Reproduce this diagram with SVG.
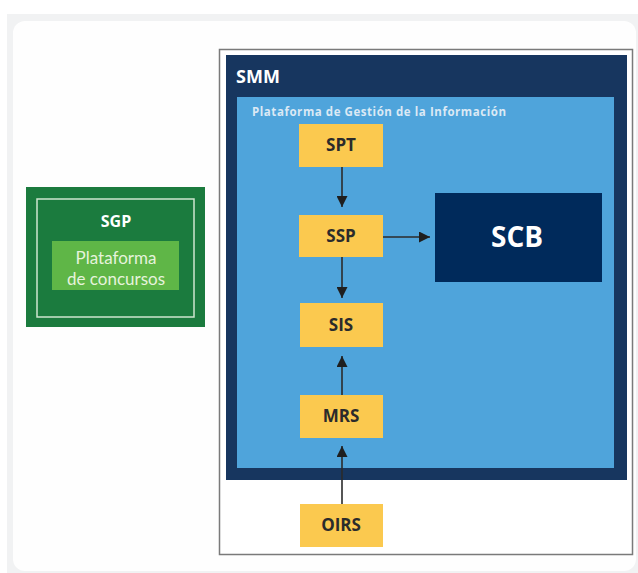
<svg xmlns="http://www.w3.org/2000/svg" width="638" height="573" viewBox="0 0 638 573">
<style>
.yb{fill:#fbc94f}
.yt{font-family:"Open Sans","Noto Sans",sans-serif;font-weight:bold;font-size:17px;fill:#2b2b2b;text-anchor:middle}
.ln{stroke:#2b2b2b;stroke-width:1.6;fill:none}
</style>
<defs>
<marker id="ah" viewBox="0 0 10 10" refX="10" refY="5" markerWidth="11" markerHeight="11" markerUnits="userSpaceOnUse" orient="auto">
<path d="M0,0 L10,5 L0,10 Z" fill="#1f1f1f"/>
</marker>
</defs>
<rect x="0" y="0" width="638" height="573" fill="#ffffff"/>
<rect x="7" y="14" width="640" height="570" fill="#f1f2f3"/>
<rect x="13" y="21" width="623" height="550" rx="12" fill="#fefefe"/>

<g id="sgp">
<rect x="26" y="187" width="179" height="140" fill="#1b7b3e"/>
<rect x="37" y="199" width="157" height="118" fill="none" stroke="#cfe6cf" stroke-width="1.5"/>
<text x="116" y="227" font-family="'Open Sans','Noto Sans',sans-serif" font-weight="bold" font-size="16" fill="#ffffff" text-anchor="middle">SGP</text>
<rect x="52" y="241" width="127" height="49" fill="#5fb647"/>
<text x="116" y="264" font-family="Lato,'Open Sans',sans-serif" font-size="17" fill="#e6f3dc" text-anchor="middle">Plataforma</text>
<text x="116" y="285" font-family="Lato,'Open Sans',sans-serif" font-size="17" fill="#e6f3dc" text-anchor="middle">de concursos</text>
</g>

<g id="smm">
<rect x="219.5" y="49.5" width="413" height="505" fill="#ffffff" stroke="#7a7a7a" stroke-width="1.5"/>
<rect x="226" y="55" width="401" height="425" fill="#17365f"/>
<text x="236" y="83" font-family="'Open Sans','Noto Sans',sans-serif" font-weight="bold" font-size="18" fill="#ffffff">SMM</text>
</g>

<g id="pgi">
<rect x="237" y="97" width="377" height="371" fill="#4fa4db"/>
<text x="252" y="116" font-family="'Open Sans','Noto Sans',sans-serif" font-weight="bold" font-size="11.5" fill="#dbe9f5" textLength="254">Plataforma de Gestión de la Información</text>
</g>

<g id="spt"><rect class="yb" x="299" y="124" width="84" height="43"/><text class="yt" x="341" y="151">SPT</text></g>
<g id="ssp"><rect class="yb" x="299" y="215" width="84" height="42"/><text class="yt" x="341" y="242">SSP</text></g>
<g id="sis"><rect class="yb" x="300" y="303" width="83" height="44"/><text class="yt" x="341" y="331">SIS</text></g>
<g id="mrs"><rect class="yb" x="300" y="395" width="83" height="43"/><text class="yt" x="341" y="422">MRS</text></g>
<g id="oirs"><rect class="yb" x="300" y="504" width="83" height="43"/><text class="yt" x="341" y="531">OIRS</text></g>
<g id="scb"><rect x="435" y="193" width="167" height="89" fill="#002a5b"/><text x="517" y="247" font-family="'Open Sans','Noto Sans',sans-serif" font-weight="bold" font-size="28" fill="#ffffff" text-anchor="middle">SCB</text></g>

<g id="connectors">
<line class="ln" x1="342" y1="167" x2="342" y2="207" marker-end="url(#ah)"/>
<line class="ln" x1="383" y1="237" x2="430" y2="237" marker-end="url(#ah)"/>
<line class="ln" x1="342" y1="257" x2="342" y2="298" marker-end="url(#ah)"/>
<line class="ln" x1="342" y1="395" x2="342" y2="356" marker-end="url(#ah)"/>
<line class="ln" x1="342" y1="504" x2="342" y2="446" marker-end="url(#ah)"/>
</g>
</svg>
